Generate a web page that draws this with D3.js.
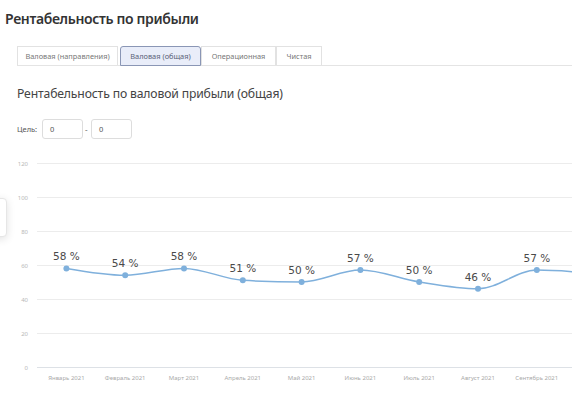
<!DOCTYPE html>
<html lang="ru">
<head>
<meta charset="utf-8">
<title>Рентабельность по прибыли</title>
<script src="https://cdn.jsdelivr.net/npm/d3@7"></script>
<style>
  body { margin: 0; background: #fff; font-family: "Noto Sans", sans-serif; width: 572px; height: 396px; overflow: hidden; position: relative; }
  h1 { position: absolute; left: 5px; top: 9px; margin: 0; font-size: 14px; letter-spacing: -0.35px; font-weight: 600; color: #333; }
  .tabs { position: absolute; left: 17px; top: 46px; right: 0; height: 19px; border-bottom: 1px solid #e4e4e4; }
  .tab { position: absolute; top: 0; height: 19px; line-height: 19px; font-size: 7.4px; color: #777; text-align: center; border: 1px solid #e2e2e2; border-bottom: none; box-sizing: border-box; background: #fff; }
  .tab.active { background: #e9edf9; border: 1px solid #8a96b5; border-radius: 3px 3px 0 0; color: #5a6278; height: 20px; }
  h2 { position: absolute; left: 17px; top: 85px; margin: 0; font-size: 12.2px; letter-spacing: -0.15px; font-weight: 400; color: #444; }
  .goal { position: absolute; left: 17px; top: 124px; font-size: 7.5px; color: #555; }
  .inp { position: absolute; top: 119px; height: 20px; width: 41px; box-sizing: border-box; border: 1px solid #ddd; border-radius: 3px; font-size: 7.5px; color: #555; line-height: 18px; padding-left: 7px; }
  .dash { position: absolute; left: 85px; top: 124px; font-size: 8px; color: #777; }
  .float { position: absolute; left: -20px; top: 198px; width: 25px; height: 37px; background: #fff; border: 1px solid #e6e6e6; border-radius: 4px; box-shadow: 0 2px 8px rgba(0,0,0,0.12); }
  svg { position: absolute; left: 0; top: 150px; }
</style>
</head>
<body>
<h1>Рентабельность по прибыли</h1>
<div class="tabs">
  <div class="tab" style="left:0;width:101px">Валовая (направления)</div>
  <div class="tab active" style="left:103px;width:81px">Валовая (общая)</div>
  <div class="tab" style="left:184px;width:75px">Операционная</div>
  <div class="tab" style="left:259px;width:46px">Чистая</div>
</div>
<h2>Рентабельность по валовой прибыли (общая)</h2>
<div class="goal">Цель:</div>
<div class="inp" style="left:42px">0</div>
<div class="dash">-</div>
<div class="inp" style="left:91px">0</div>
<div class="float"></div>

<script>
var months = ["Январь 2021", "Февраль 2021", "Март 2021", "Апрель 2021", "Май 2021",
              "Июнь 2021", "Июль 2021", "Август 2021", "Сентябрь 2021", "Октябрь 2021"];
var margins = [58, 54, 58, 51, 50, 57, 50, 46, 57, 55];
var yTicks = [0, 20, 40, 60, 80, 100, 120];

var width = 572, height = 246;
var svg = d3.select("body").append("svg")
  .attr("width", width)
  .attr("height", height);

var x = d3.scaleBand().domain(months).range([37, 37 + 58.8 * months.length]);
var y = d3.scaleLinear().domain([0, 120]).range([217, 13]);
var cx = function(m) { return x(m) + x.bandwidth() / 2; };

// grid + y labels
svg.selectAll("line.grid").data(yTicks).enter().append("line")
  .attr("class", "grid")
  .attr("x1", 37).attr("x2", width)
  .attr("y1", function(d) { return y(d) + 0.5; })
  .attr("y2", function(d) { return y(d) + 0.5; })
  .attr("stroke", function(d) { return d === 0 ? "#dde1e6" : "#ececec"; })
  .attr("stroke-width", 1);

svg.selectAll("text.ytick").data(yTicks).enter().append("text")
  .attr("class", "ytick")
  .attr("x", 28).attr("y", function(d) { return y(d) + 2.5; })
  .attr("text-anchor", "end")
  .attr("font-size", 6)
  .attr("fill", "#b8b8b8")
  .text(function(d) { return d; });

// x labels (the chart scrolls; only those in view are drawn)
var visible = months.filter(function(m) { return cx(m) < width; });
svg.selectAll("text.xtick").data(visible).enter().append("text")
  .attr("class", "xtick")
  .attr("x", cx)
  .attr("y", 230)
  .attr("text-anchor", "middle")
  .attr("font-size", 6)
  .attr("fill", "#aaa")
  .text(function(d) { return d; });

var data = months.map(function(m, i) { return { month: m, value: margins[i] }; });

var line = d3.line()
  .x(function(d) { return cx(d.month); })
  .y(function(d) { return y(d.value); })
  .curve(d3.curveMonotoneX);

svg.append("path")
  .datum(data)
  .attr("d", line)
  .attr("fill", "none")
  .attr("stroke", "#7fb0dc")
  .attr("stroke-width", 1.5);

svg.selectAll("circle").data(data).enter().append("circle")
  .attr("cx", function(d) { return cx(d.month); })
  .attr("cy", function(d) { return y(d.value); })
  .attr("r", 3)
  .attr("fill", "#7fb0dc");

svg.selectAll("text.lbl").data(data.filter(function(d) { return cx(d.month) < width; }))
  .enter().append("text")
  .attr("class", "lbl")
  .attr("x", function(d) { return cx(d.month); })
  .attr("y", function(d) { return y(d.value) - 8; })
  .attr("text-anchor", "middle")
  .attr("font-family", "'DejaVu Sans', sans-serif")
  .attr("font-size", 10.5)
  .attr("fill", "#4a4a4a")
  .text(function(d) { return d.value + " %"; });
</script>
</body>
</html>
